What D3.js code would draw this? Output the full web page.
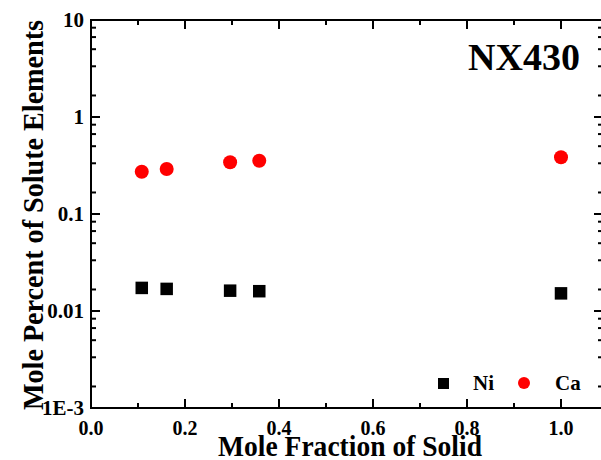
<!DOCTYPE html>
<html lang="en">
<head>
<meta charset="UTF-8">
<title>NX430</title>
<script src="https://d3js.org/d3.v7.min.js"></script>
<style>
  body { margin: 0; background: #fff; }
  text { font-family: "Liberation Serif", "Times New Roman", serif; font-weight: bold; fill: #000; }
</style>
</head>
<body>
<div id="chart"></div>
<script>
  // fraction of solid for each sample
  const fractionSolid = [0.108, 0.161, 0.296, 0.358, 1.0];
  // mole percent of solute, per element
  const niValues = [0.0173, 0.0169, 0.0162, 0.0160, 0.0152];
  const caValues = [0.273, 0.291, 0.341, 0.354, 0.385];

  const xTicks = [0.0, 0.2, 0.4, 0.6, 0.8, 1.0];
  const xMinor = [0.1, 0.3, 0.5, 0.7, 0.9];
  const yTicks = [0.001, 0.01, 0.1, 1, 10];
  const yTickLabels = ["1E-3", "0.01", "0.1", "1", "10"];
  const yMinorSteps = [1, 2, 3, 4, 5]; // sixths of each decade, as in the source plot

  const width = 601, height = 460;
  const plotLeft = 91, plotRight = 603, plotTop = 20, plotBottom = 408;

  const svg = d3.select("#chart").append("svg").attr("width", width).attr("height", height);

  // x: 0..1 spans 91..561
  const x = d3.scaleLinear().domain([0, 1]).range([plotLeft, 561]);
  const y = d3.scaleLog().domain([0.001, 10]).range([plotBottom, plotTop]);

  // frame
  const frame = svg.append("g").attr("stroke", "#000").attr("stroke-width", 2);
  frame.append("line").attr("x1", plotLeft).attr("x2", plotRight + 1).attr("y1", plotBottom).attr("y2", plotBottom);
  frame.append("line").attr("x1", plotLeft).attr("x2", plotRight + 1).attr("y1", plotTop).attr("y2", plotTop);
  frame.append("line").attr("x1", plotLeft).attr("x2", plotLeft).attr("y1", plotTop - 1).attr("y2", plotBottom + 1);
  frame.append("line").attr("x1", plotRight).attr("x2", plotRight).attr("y1", plotTop - 1).attr("y2", plotBottom + 1);

  const major = 9, minor = 5;
  const ticks = svg.append("g").attr("stroke", "#000").attr("stroke-width", 2);

  // x ticks, bottom and top, pointing inwards
  xTicks.forEach(function(v) {
    ticks.append("line").attr("x1", x(v)).attr("x2", x(v)).attr("y1", plotBottom).attr("y2", plotBottom - major);
    ticks.append("line").attr("x1", x(v)).attr("x2", x(v)).attr("y1", plotTop).attr("y2", plotTop + major);
  });
  xMinor.forEach(function(v) {
    ticks.append("line").attr("x1", x(v)).attr("x2", x(v)).attr("y1", plotBottom).attr("y2", plotBottom - minor);
    ticks.append("line").attr("x1", x(v)).attr("x2", x(v)).attr("y1", plotTop).attr("y2", plotTop + minor);
  });

  // y ticks, left and right
  yTicks.forEach(function(v, i) {
    ticks.append("line").attr("x1", plotLeft).attr("x2", plotLeft + major).attr("y1", y(v)).attr("y2", y(v));
    ticks.append("line").attr("x1", plotRight).attr("x2", plotRight - major).attr("y1", y(v)).attr("y2", y(v));
    if (i < yTicks.length - 1) {
      yMinorSteps.forEach(function(k) {
        const m = yTicks[i + 1] * k / 6;
        ticks.append("line").attr("x1", plotLeft).attr("x2", plotLeft + minor).attr("y1", y(m)).attr("y2", y(m));
        ticks.append("line").attr("x1", plotRight).attr("x2", plotRight - minor).attr("y1", y(m)).attr("y2", y(m));
      });
    }
  });

  // tick labels
  svg.append("g").selectAll("text").data(xTicks).join("text")
    .attr("x", d => x(d)).attr("y", plotBottom + 27)
    .attr("text-anchor", "middle").style("font-size", "20px")
    .text(d => d.toFixed(1));

  svg.append("g").selectAll("text").data(yTicks).join("text")
    .attr("x", 84).attr("y", d => y(d) + 7)
    .attr("text-anchor", "end").style("font-size", "21px")
    .text((d, i) => yTickLabels[i]);

  // axis titles (condensed, like the original)
  svg.append("text").attr("x", 218).attr("y", 456)
    .style("font-size", "30px")
    .attr("textLength", 264).attr("lengthAdjust", "spacingAndGlyphs")
    .text("Mole Fraction of Solid");

  svg.append("text").attr("transform", "translate(43,410) rotate(-90)")
    .style("font-size", "30px")
    .attr("textLength", 390).attr("lengthAdjust", "spacingAndGlyphs")
    .text("Mole Percent of Solute Elements");

  svg.append("text").attr("x", 580).attr("y", 70)
    .attr("text-anchor", "end").style("font-size", "38px")
    .text("NX430");

  // data
  const s = 12.5;
  svg.append("g").selectAll("rect").data(fractionSolid).join("rect")
    .attr("x", d => x(d) - s / 2).attr("y", (d, i) => y(niValues[i]) - s / 2)
    .attr("width", s).attr("height", s).attr("fill", "#000");

  svg.append("g").selectAll("circle").data(fractionSolid).join("circle")
    .attr("cx", d => x(d)).attr("cy", (d, i) => y(caValues[i]))
    .attr("r", 7).attr("fill", "#ff0000");

  // legend
  svg.append("rect").attr("x", 438).attr("y", 378).attr("width", 11).attr("height", 11).attr("fill", "#000");
  svg.append("text").attr("x", 473).attr("y", 390).style("font-size", "21px").text("Ni");
  svg.append("circle").attr("cx", 524).attr("cy", 383).attr("r", 6).attr("fill", "#ff0000");
  svg.append("text").attr("x", 555).attr("y", 390).style("font-size", "21px").text("Ca");
</script>
</body>
</html>
